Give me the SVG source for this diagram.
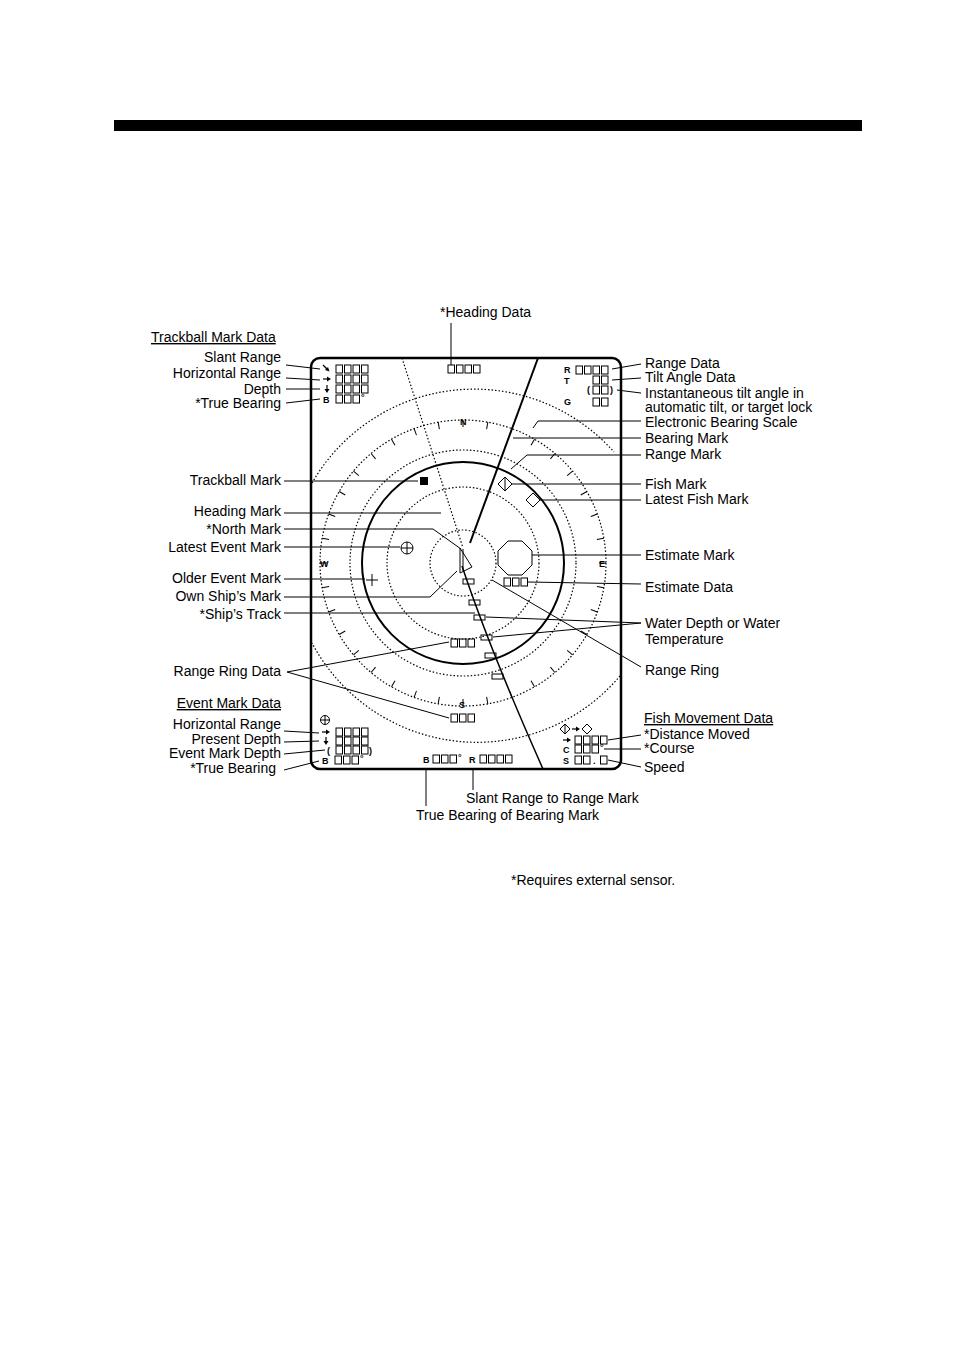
<svg xmlns="http://www.w3.org/2000/svg" xmlns:xlink="http://www.w3.org/1999/xlink" width="954" height="1349" viewBox="0 0 954 1349">
<style>
text{font-family:"Liberation Sans",Arial,sans-serif;font-size:14px;fill:#000}
.s{font-size:9px;font-weight:bold}
.r{text-anchor:end}
.l{stroke:#000;stroke-width:1;fill:none}
.d{stroke:#000;stroke-width:1.2;fill:none;stroke-dasharray:1.5 2}
.b{fill:none;stroke:#000;stroke-width:1}
</style>
<defs>
<rect id="q" width="6.5" height="8" class="b"/>
<rect id="t" width="11" height="5" class="b"/>
<g id="ar"><path d="M0 0 h5" stroke="#000" stroke-width="1.2"/><path d="M4 -2.5 L8 0 4 2.5 Z" fill="#000"/></g>
<g id="ad"><path d="M0 0 v5" stroke="#000" stroke-width="1.2"/><path d="M-2.5 4 L0 8 2.5 4 Z" fill="#000"/></g>
<g id="as"><path d="M0 0 l4 4" stroke="#000" stroke-width="1.2"/><path d="M2 5 L6.5 6.5 5 2 Z" fill="#000"/></g>
</defs>
<rect x="114" y="120" width="748" height="11" fill="#000"/>
<g id="frame">
<rect x="311" y="358" width="310" height="411" rx="9" fill="none" stroke="#000" stroke-width="2.5"/>
</g>
<g id="rings">
<circle cx="463" cy="563" r="33" class="d"/>
<circle cx="463" cy="563" r="76" class="d"/>
<circle cx="463" cy="563" r="101" fill="none" stroke="#000" stroke-width="2"/>
<circle cx="463" cy="563" r="113" class="d"/>
<path d="M312 483 A187 187 0 0 1 614 452 M620 676 A187 187 0 0 1 312 643" class="d"/>
<circle cx="463" cy="563" r="143" class="d"/>
<g stroke="#000" stroke-width="1">
<path id="tk" d="M463 420 v7"/>
<use xlink:href="#tk" transform="rotate(10 463 563)"/><use xlink:href="#tk" transform="rotate(20 463 563)"/><use xlink:href="#tk" transform="rotate(30 463 563)"/><use xlink:href="#tk" transform="rotate(40 463 563)"/><use xlink:href="#tk" transform="rotate(50 463 563)"/><use xlink:href="#tk" transform="rotate(60 463 563)"/><use xlink:href="#tk" transform="rotate(70 463 563)"/><use xlink:href="#tk" transform="rotate(80 463 563)"/><use xlink:href="#tk" transform="rotate(90 463 563)"/><use xlink:href="#tk" transform="rotate(100 463 563)"/><use xlink:href="#tk" transform="rotate(110 463 563)"/><use xlink:href="#tk" transform="rotate(120 463 563)"/><use xlink:href="#tk" transform="rotate(130 463 563)"/><use xlink:href="#tk" transform="rotate(140 463 563)"/><use xlink:href="#tk" transform="rotate(150 463 563)"/><use xlink:href="#tk" transform="rotate(160 463 563)"/><use xlink:href="#tk" transform="rotate(170 463 563)"/><use xlink:href="#tk" transform="rotate(180 463 563)"/><use xlink:href="#tk" transform="rotate(190 463 563)"/><use xlink:href="#tk" transform="rotate(200 463 563)"/><use xlink:href="#tk" transform="rotate(210 463 563)"/><use xlink:href="#tk" transform="rotate(220 463 563)"/><use xlink:href="#tk" transform="rotate(230 463 563)"/><use xlink:href="#tk" transform="rotate(240 463 563)"/><use xlink:href="#tk" transform="rotate(250 463 563)"/><use xlink:href="#tk" transform="rotate(260 463 563)"/><use xlink:href="#tk" transform="rotate(270 463 563)"/><use xlink:href="#tk" transform="rotate(280 463 563)"/><use xlink:href="#tk" transform="rotate(290 463 563)"/><use xlink:href="#tk" transform="rotate(300 463 563)"/><use xlink:href="#tk" transform="rotate(310 463 563)"/><use xlink:href="#tk" transform="rotate(320 463 563)"/><use xlink:href="#tk" transform="rotate(330 463 563)"/><use xlink:href="#tk" transform="rotate(340 463 563)"/><use xlink:href="#tk" transform="rotate(350 463 563)"/>
</g>
<text class="s" x="460" y="425">N</text><text class="s" x="459" y="708">S</text>
<text class="s" x="320" y="567">W</text><text class="s" x="599" y="567">E</text>
</g>
<g id="marks">
<path d="M402 358 L463 548" class="d"/>
<path d="M538 358 L470 543" stroke="#000" stroke-width="2" fill="none"/>
<path d="M462 566 Q490 650 543 769" stroke="#000" stroke-width="1.5" fill="none"/>
<path d="M460 548 V573 L472 567 Z M463 549 V571" class="b" stroke-width="1.5"/>
<rect x="420" y="477" width="8" height="8" fill="#000"/>
<path d="M505 477 L512 484 505 491 498 484 Z M505 477 V491" class="b" stroke-width="1.5"/>
<path d="M533 493 L540 500 533 507 526 500 Z" class="b" stroke-width="1.5"/>
<polygon points="508,541 522,541 532,551 532,565 522,575 508,575 498,565 498,551" class="b" stroke-width="1.5"/>
<circle cx="407" cy="548" r="6" class="b" stroke-width="1.5"/><path d="M401 548 h12 M407 542 v12" class="l" stroke-width="1.5"/>
<path d="M366 580 h12 M372 574 v12" class="l" stroke-width="1.5"/>
<use xlink:href="#t" x="463" y="579"/><use xlink:href="#t" x="469" y="600"/><use xlink:href="#t" x="474" y="615"/><use xlink:href="#t" x="481" y="635"/><use xlink:href="#t" x="485" y="653"/><use xlink:href="#t" x="492" y="674"/>
</g>
<g id="data">
<use xlink:href="#as" x="323" y="365"/><use xlink:href="#ar" x="323" y="379"/><use xlink:href="#ad" x="327" y="385"/><text class="s" x="323" y="403">B</text>
<use xlink:href="#q" x="336" y="365"/><use xlink:href="#q" x="344.5" y="365"/><use xlink:href="#q" x="353" y="365"/><use xlink:href="#q" x="361.5" y="365"/>
<use xlink:href="#q" x="336" y="375"/><use xlink:href="#q" x="344.5" y="375"/><use xlink:href="#q" x="353" y="375"/><use xlink:href="#q" x="361.5" y="375"/>
<use xlink:href="#q" x="336" y="385"/><use xlink:href="#q" x="344.5" y="385"/><use xlink:href="#q" x="353" y="385"/><use xlink:href="#q" x="361.5" y="385"/>
<use xlink:href="#q" x="336" y="395"/><use xlink:href="#q" x="344.5" y="395"/><use xlink:href="#q" x="353" y="395"/><text class="s" x="361" y="400">°</text>
<use xlink:href="#q" x="448" y="365"/><use xlink:href="#q" x="456.5" y="365"/><use xlink:href="#q" x="465" y="365"/><use xlink:href="#q" x="473.5" y="365"/>
<text class="s" x="564" y="373">R</text><text class="s" x="564" y="384">T</text><text class="s" x="564" y="405">G</text>
<use xlink:href="#q" x="576" y="366"/><use xlink:href="#q" x="584.5" y="366"/><use xlink:href="#q" x="593" y="366"/><use xlink:href="#q" x="601.5" y="366"/>
<use xlink:href="#q" x="593" y="376"/><use xlink:href="#q" x="601.5" y="376"/>
<text class="s" x="587" y="393">(</text><use xlink:href="#q" x="593" y="386"/><use xlink:href="#q" x="601.5" y="386"/><text class="s" x="610" y="393">)</text>
<use xlink:href="#q" x="593" y="398"/><use xlink:href="#q" x="601.5" y="398"/>
<use xlink:href="#q" x="504" y="578"/><use xlink:href="#q" x="512.5" y="578"/><use xlink:href="#q" x="521" y="578"/>
<use xlink:href="#q" x="451" y="639"/><use xlink:href="#q" x="459.5" y="639"/><use xlink:href="#q" x="468" y="639"/>
<use xlink:href="#q" x="451" y="714"/><use xlink:href="#q" x="459.5" y="714"/><use xlink:href="#q" x="468" y="714"/>
<circle cx="325" cy="720" r="4.5" class="b"/><path d="M320.5 720 h9 M325 715.5 v9" class="l"/>
<use xlink:href="#ar" x="322" y="732"/><use xlink:href="#ad" x="326" y="737"/><text class="s" x="327" y="754">(</text><text class="s" x="322" y="764">B</text>
<use xlink:href="#q" x="336" y="728"/><use xlink:href="#q" x="344.5" y="728"/><use xlink:href="#q" x="353" y="728"/><use xlink:href="#q" x="361.5" y="728"/>
<use xlink:href="#q" x="336" y="737"/><use xlink:href="#q" x="344.5" y="737"/><use xlink:href="#q" x="353" y="737"/><use xlink:href="#q" x="361.5" y="737"/>
<use xlink:href="#q" x="336" y="746"/><use xlink:href="#q" x="344.5" y="746"/><use xlink:href="#q" x="353" y="746"/><use xlink:href="#q" x="361.5" y="746"/><text class="s" x="369" y="754">)</text>
<use xlink:href="#q" x="335" y="756"/><use xlink:href="#q" x="343.5" y="756"/><use xlink:href="#q" x="352" y="756"/><text class="s" x="360" y="761">°</text>
<text class="s" x="423" y="763">B</text><use xlink:href="#q" x="433" y="755"/><use xlink:href="#q" x="441.5" y="755"/><use xlink:href="#q" x="450" y="755"/><text class="s" x="458" y="760">°</text>
<text class="s" x="469" y="763">R</text><use xlink:href="#q" x="480" y="755"/><use xlink:href="#q" x="488.5" y="755"/><use xlink:href="#q" x="497" y="755"/><use xlink:href="#q" x="505.5" y="755"/>
<path d="M565 724 L570 729 565 734 560 729 Z M565 724 V734 M587 724 L592 729 587 734 582 729 Z" class="b"/><use xlink:href="#ar" x="572" y="729"/>
<use xlink:href="#ar" x="563" y="740"/><text class="s" x="563" y="753">C</text><text class="s" x="563" y="764">S</text>
<use xlink:href="#q" x="575" y="736"/><use xlink:href="#q" x="583.5" y="736"/><use xlink:href="#q" x="592" y="736"/><use xlink:href="#q" x="600.5" y="736"/>
<use xlink:href="#q" x="575" y="745"/><use xlink:href="#q" x="583.5" y="745"/><use xlink:href="#q" x="592" y="745"/><text class="s" x="600" y="750">°</text>
<use xlink:href="#q" x="575" y="756"/><use xlink:href="#q" x="583.5" y="756"/><text class="s" x="593" y="764">.</text><use xlink:href="#q" x="600.5" y="756"/>
</g>
<g id="connectors" class="l">
<path d="M451 323 V365"/>
<path d="M286 365 L320 369 M286 378 L320 380 M286 389 L320 389 M286 403 L320 399"/>
<path d="M284 481 H418 M284 513 H441 M284 529 H433 L461 549 M284 547 H400 M284 579 H365 M284 597 H430 L457 571 M284 613 H475 M287 672 L449 642 M287 672 L449 718"/>
<path d="M284 731 L319 733 M284 742 L319 741 M284 754 L325 750 M284 770 L319 761"/>
<path d="M612 369 L641 364 M612 380 L641 378 M617 390 L641 393 M533 428 L538 421 H641 M513 438 H641 M511 469 L527 455 H641 M512 484 H641 M540 500 H641 M532 555 H641 M528 582 L641 584 M486 617 L641 623 M493 637 L641 623 M492 580 L641 667"/>
<path d="M608 740 L641 735 M604 749 H641 M608 760 L641 767"/>
<path d="M473 768 V790 M426 768 V806"/>
</g>
<g id="labels">
<text x="440" y="317">*Heading Data</text>
<text x="151" y="342" text-decoration="underline">Trackball Mark Data</text>
<text class="r" x="281" y="362">Slant Range</text>
<text class="r" x="281" y="378">Horizontal Range</text>
<text class="r" x="281" y="394">Depth</text>
<text class="r" x="281" y="408">*True Bearing</text>
<text class="r" x="281" y="485">Trackball Mark</text>
<text class="r" x="281" y="516">Heading Mark</text>
<text class="r" x="281" y="534">*North Mark</text>
<text class="r" x="281" y="552">Latest Event Mark</text>
<text class="r" x="281" y="583">Older Event Mark</text>
<text class="r" x="281" y="601">Own Ship’s Mark</text>
<text class="r" x="281" y="619">*Ship’s Track</text>
<text class="r" x="281" y="676">Range Ring Data</text>
<text class="r" x="281" y="708" text-decoration="underline">Event Mark Data</text>
<text class="r" x="281" y="729">Horizontal Range</text>
<text class="r" x="281" y="744">Present Depth</text>
<text class="r" x="281" y="758">Event Mark Depth</text>
<text class="r" x="276" y="773">*True Bearing</text>
<text x="645" y="368">Range Data</text>
<text x="645" y="382">Tilt Angle Data</text>
<text x="645" y="398">Instantaneous tilt angle in</text>
<text x="645" y="412">automatic tilt, or target lock</text>
<text x="645" y="427">Electronic Bearing Scale</text>
<text x="645" y="443">Bearing Mark</text>
<text x="645" y="459">Range Mark</text>
<text x="645" y="489">Fish Mark</text>
<text x="645" y="504">Latest Fish Mark</text>
<text x="645" y="560">Estimate Mark</text>
<text x="645" y="592">Estimate Data</text>
<text x="645" y="628">Water Depth or Water</text>
<text x="645" y="644">Temperature</text>
<text x="645" y="675">Range Ring</text>
<text x="644" y="723" text-decoration="underline">Fish Movement Data</text>
<text x="644" y="739">*Distance Moved</text>
<text x="644" y="753">*Course</text>
<text x="644" y="772">Speed</text>
<text x="466" y="803">Slant Range to Range Mark</text>
<text x="416" y="820">True Bearing of Bearing Mark</text>
<text x="511" y="885">*Requires external sensor.</text>
</g>
</svg>
